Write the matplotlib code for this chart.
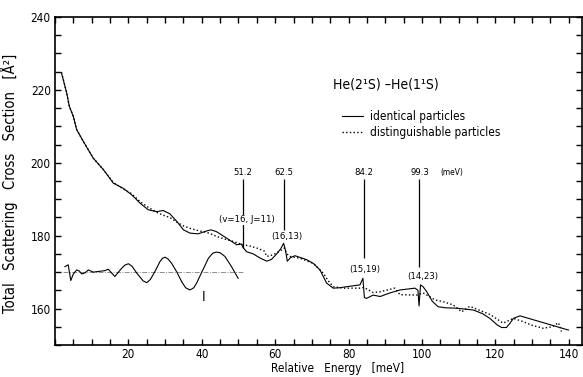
import matplotlib
matplotlib.use('Agg')
import matplotlib.pyplot as plt
from matplotlib.ticker import MultipleLocator

plt.rcParams['font.family'] = ['DejaVu Sans']
plt.rcParams['font.stretch'] = 'condensed'

# ---------------------------
# Cross sections, He(2S)-He(1S)
# ---------------------------

# identical particles (solid curve)
energy_ident = [1.8, 3.2, 3.9, 5.0, 5.9, 7.7, 10.4, 13.2, 15.9, 18.6, 20.9, 23.2,
                25.4, 27.7, 29.5, 31.3, 33.2, 35.0, 36.8, 39.0, 41.0, 42.5, 44.0,
                46.8, 49.5, 50.8, 51.2, 52.2, 54.0, 56.0, 57.7, 59.0, 60.4, 61.5,
                62.3, 62.8, 63.3, 64.2, 65.4, 68.6, 70.5, 72.2, 74.0, 75.8, 77.5,
                79.5, 83.1, 83.9, 84.3, 84.9, 86.7, 88.6, 91.0, 94.0, 98.1, 98.9,
                99.2, 99.6, 100.3, 101.3, 102.8, 104.4, 106.5, 109.4, 114.0, 116.5,
                118.5, 120.5, 121.7, 123.0, 124.0, 124.9, 126.7, 139.9]
sigma_ident = [224.5, 219.1, 215.5, 212.7, 209.1, 205.9, 201.3, 198.1, 194.4, 193.0,
               191.2, 188.9, 187.1, 186.6, 186.9, 186.0, 183.9, 181.6, 180.7, 180.5,
               181.2, 181.6, 181.1, 179.3, 177.5, 177.7, 176.8, 175.6, 175.0, 173.8,
               173.0, 173.5, 175.0, 176.4, 177.9, 176.0, 173.0, 174.0, 174.5, 173.4,
               172.3, 170.6, 167.0, 165.6, 165.7, 166.0, 166.5, 168.3, 163.0, 162.8,
               163.7, 163.3, 164.2, 165.1, 165.6, 165.0, 160.7, 166.5, 166.0, 164.6,
               162.0, 160.5, 160.2, 160.1, 159.6, 158.6, 157.3, 155.5, 154.8, 154.8,
               156.0, 157.3, 158.0, 154.1]

# distinguishable particles (dotted curve)
energy_dist = [1.8, 3.2, 3.9, 5.0, 5.9, 7.7, 10.4, 13.2, 15.9, 18.6, 20.9, 23.2,
               25.4, 27.7, 29.5, 31.3, 33.2, 35.0, 36.8, 39.0, 42.0, 44.0, 46.8,
               48.6, 51.2, 53.0, 55.0, 57.0, 57.7, 59.5, 61.0, 62.5, 63.2, 64.0,
               66.8, 70.4, 73.1, 74.4, 75.8, 78.6, 83.1, 84.2, 86.7, 88.6, 92.6,
               94.0, 98.6, 100.3, 103.5, 106.0, 108.5, 110.8, 113.0, 118.5, 122.1,
               124.9, 127.6, 130.0, 133.0, 135.5, 137.2, 138.0]
sigma_dist = [224.8, 219.1, 215.5, 212.7, 209.1, 205.9, 201.3, 198.1, 194.6, 192.8,
              191.5, 189.3, 187.8, 186.4, 185.6, 185.0, 183.7, 182.7, 182.0, 181.4,
              180.7, 179.8, 178.9, 178.4, 177.5, 177.2, 176.6, 175.8, 174.3, 174.8,
              175.6, 176.6, 175.0, 174.3, 173.8, 172.4, 169.7, 167.7, 166.0, 165.6,
              165.6, 165.8, 164.4, 164.6, 165.6, 163.8, 163.7, 164.3, 162.4, 161.8,
              161.0, 159.1, 160.6, 158.4, 156.0, 157.3, 156.4, 155.4, 154.6, 155.0,
              156.1, 153.7]

# oscillating part I, drawn around its own zero line
energy_osc = [2.7, 3.6, 4.3, 5.0, 5.9, 6.6, 7.3, 8.2, 9.1, 10.4, 12.0, 13.6, 14.5,
              16.3, 18.2, 19.0, 20.0, 21.0, 22.3, 24.0, 25.0, 26.0, 27.2, 28.6,
              29.3, 30.0, 30.8, 31.8, 33.2, 34.5, 35.6, 36.8, 37.8, 38.6, 40.0,
              41.8, 43.0, 44.0, 45.0, 46.3, 48.1, 49.9]
sigma_osc = [171.5, 172.0, 167.7, 169.5, 170.6, 170.3, 169.5, 169.8, 170.6, 170.0,
             170.2, 170.4, 170.8, 168.8, 171.1, 171.9, 172.3, 171.6, 169.7, 167.6,
             167.1, 168.0, 170.1, 172.9, 173.8, 174.1, 173.6, 172.4, 170.0, 167.4,
             165.7, 165.1, 165.7, 167.0, 170.0, 173.8, 175.2, 175.5, 175.3, 174.3,
             171.5, 168.3]
osc_zero = 170.0
osc_span = [2.1, 51.5]

# resonances (meV) and their (v, J) assignment
res_energy = [51.2, 62.5, 84.2, 99.3]
res_text = ['51.2', '62.5', '84.2', '99.3']
res_vj = ['(v=16, J=11)', '(16,13)', '(15,19)', '(14,23)']

# where the marker lines end and the (v, J) labels sit
res_line_top = 195.6
res_line_bottom = [176.5, 181.6, 173.9, 171.5]
res_vj_x = [52.2, 63.1, 84.3, 100.2]
res_vj_y = [184.3, 179.9, 170.8, 168.8]

# ---------------------------
# Plot
# ---------------------------

fig = plt.figure(figsize=(5.83, 3.77), dpi=100)
ax = fig.add_axes([55 / 583, 1 - 345 / 377, 527 / 583, 328 / 377])

ax.plot(energy_ident, sigma_ident, color='black', lw=0.8,
        label='identical particles')
ax.plot(energy_dist, sigma_dist, color='black', lw=1.0, ls=':',
        label='distinguishable particles')
ax.plot(osc_span, [osc_zero, osc_zero], color='0.55', lw=0.7,
        ls=(0, (5, 1.5, 1, 1.5)))
ax.plot(energy_osc, sigma_osc, color='black', lw=0.8)
ax.text(40.4, 163.3, 'I', fontsize=10, ha='center', va='center')

for e, t, yb, vj, vx, vy in zip(res_energy, res_text, res_line_bottom,
                                res_vj, res_vj_x, res_vj_y):
    ax.vlines(e, yb, res_line_top, color='black', lw=0.9, zorder=2)
    ax.text(e, 197.4, t, fontsize=6.8, ha='center', va='center')
    ax.text(vx, vy, vj, fontsize=6.8, ha='center', va='center', zorder=3,
            bbox=dict(facecolor='white', edgecolor='none', pad=0.3))
ax.text(108.0, 197.4, '(meV)', fontsize=6, ha='center', va='center')

ax.text(0.5275, 0.793, 'He(2¹S) –He(1¹S)', transform=ax.transAxes,
        fontsize=10, ha='left', va='center')
ax.legend(loc='upper left', bbox_to_anchor=(0.533, 0.735), frameon=False,
          fontsize=8.5, handlelength=1.8, handletextpad=0.6, borderpad=0,
          labelspacing=0.3)

ax.set_xlim(0, 143.6)
ax.set_ylim(150, 240)
ax.xaxis.set_major_locator(MultipleLocator(20))
ax.xaxis.set_minor_locator(MultipleLocator(5))
ax.yaxis.set_major_locator(MultipleLocator(20))
ax.yaxis.set_minor_locator(MultipleLocator(5))
ax.set_xticks(range(20, 141, 20))
ax.tick_params(which='both', direction='in', top=True, right=True,
               length=4, width=1.0, labelsize=8.5)
ax.tick_params(axis='x', pad=2)
ax.tick_params(axis='y', pad=3)
for s in ax.spines.values():
    s.set_linewidth(1.2)

ax.set_xlabel('Relative   Energy   [meV]', fontsize=8.5)
ax.xaxis.set_label_coords(0.536, -0.053)
ax.set_ylabel('Total   Scattering   Cross   Section   [Å²]', fontsize=10.5)
ax.yaxis.set_label_coords(-0.07, 0.492)

plt.savefig('out.png', dpi=100)
